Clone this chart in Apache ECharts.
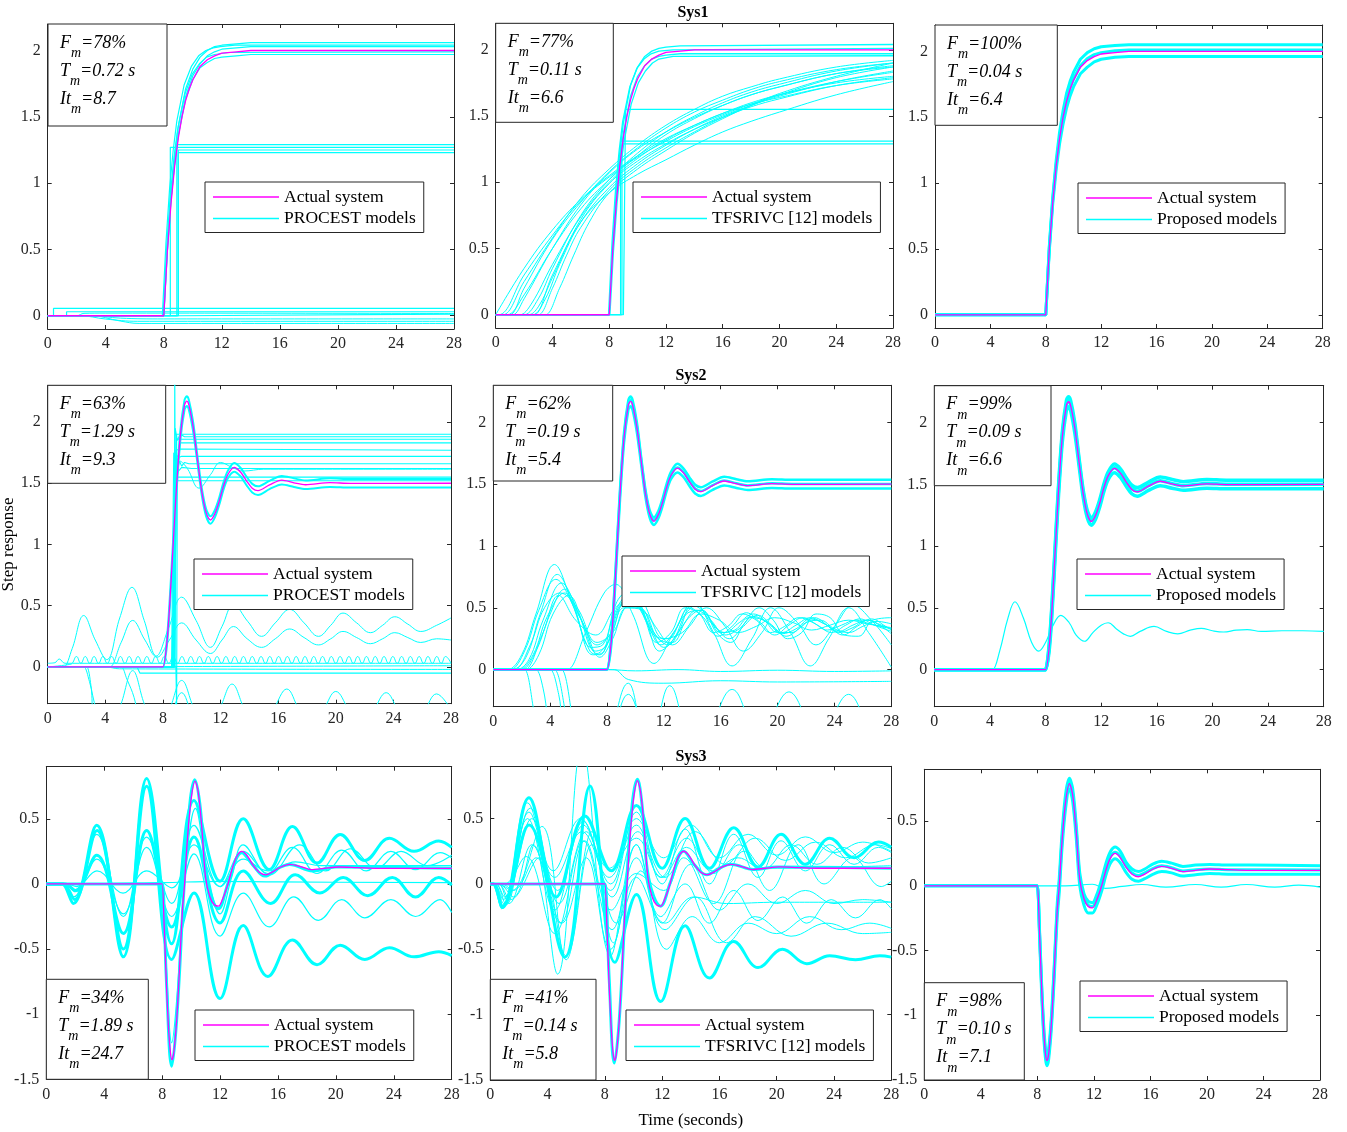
<!DOCTYPE html>
<html>
<head>
<meta charset="utf-8">
<title>Step responses</title>
<script src="https://cdn.jsdelivr.net/npm/echarts@6.0.0/dist/echarts.min.js"></script>
<style>
html, body { margin: 0; padding: 0; background: #fff; }
#chart { width: 1347px; height: 1132px; }
</style>
</head>
<body>
<div id="chart"></div>
<script>
// ---- data: [time (s), step response] ----

const yTicksStep = [0, 0.5, 1, 1.5, 2];
const yTicksSys3 = [-1.5, -1, -0.5, 0, 0.5];

// fit scores per panel: Fm, Tm, Itm
const fitScores = [
    ['78%', '0.72 s', '8.7'], ['77%', '0.11 s', '6.6'], ['100%', '0.04 s', '6.4'],
    ['63%', '1.29 s', '9.3'], ['62%', '0.19 s', '5.4'], ['99%', '0.09 s', '6.6'],
    ['34%', '1.89 s', '24.7'], ['41%', '0.14 s', '5.8'], ['98%', '0.10 s', '7.1']
];

// Sys1
const sys1Actual = [[0,0],[8,0],[8.25,0.49],[8.5,0.85],[8.75,1.13],[9,1.34],[9.25,1.5],[9.5,1.62],[9.75,1.71],[10,1.78],[10.5,1.88],[11,1.93],[11.5,1.96],[12,1.98],[13,1.99],[14,2.0],[28,2.0]];

const procest1Fit = [
    [[0,0],[8,0],[8.25,0.53],[8.5,0.92],[8.75,1.21],[9,1.43],[9.5,1.71],[10,1.86],[10.5,1.95],[11,2.0],[11.5,2.03],[12,2.04],[13,2.05],[14,2.06],[28,2.06]],
    [[0,0],[8,0],[8.25,0.49],[8.5,0.87],[8.75,1.15],[9,1.36],[9.5,1.65],[10,1.81],[10.5,1.9],[11,1.96],[11.5,1.99],[12,2.01],[13,2.02],[14,2.03],[28,2.03]],
    [[0,0],[8,0],[8.25,0.5],[8.5,0.88],[8.75,1.15],[9,1.36],[9.5,1.63],[10,1.78],[10.5,1.87],[11,1.91],[11.5,1.94],[12,1.95],[13,1.96],[14,1.97],[28,1.97]],
    [[0,0],[7.9,0],[8.15,0.55],[8.4,0.96],[8.65,1.25],[8.9,1.47],[9.4,1.74],[9.9,1.88],[10.4,1.96],[10.9,2.0],[11.4,2.02],[11.9,2.03],[12.9,2.04],[28,2.04]],
    [[0,0],[7.95,0],[8.2,0.52],[8.45,0.91],[8.7,1.19],[8.95,1.4],[9.45,1.67],[9.95,1.82],[10.45,1.9],[10.95,1.95],[11.5,1.97],[12.5,1.985],[28,1.99]]
];
const procest1Steps = [
    [[0,0],[8.45,0],[8.45,1.27],[28,1.27]],
    [[0,0],[8.9,0],[8.9,1.29],[28,1.29]],
    [[0,0],[9.0,0],[9.0,1.25],[28,1.25]],
    [[0,0],[9.0,0],[9.0,1.23],[28,1.23]],
    [[0,0],[0.4,0],[0.4,0.055],[28,0.055]],
    [[0,0],[1.3,0],[1.3,0.03],[28,0.03]],
    [[0,0],[9,0],[9,0.012],[28,0.012]]
];
const procest1Drift = [
    [[0,0],[1.9,0],[2.0,0],[2.5,0.018],[4,0.02],[28,0.017]],
    [[0,0],[2.1,0],[2.2,0],[4,-0.025],[6.2,-0.042],[28,-0.042]],
    [[0,0],[2.9,0],[3,0],[5,-0.04],[6.3,-0.058],[28,-0.058]],
    [[0,0],[2.9,0],[3,0],[5,-0.018],[8,-0.024],[28,-0.024]]
];

const tfsr1Fit = [
    [[0,0],[8,0],[8.25,0.54],[8.5,0.94],[8.75,1.23],[9,1.45],[9.5,1.73],[10,1.87],[10.5,1.95],[11,1.99],[11.5,2.01],[12,2.02],[13,2.03],[28,2.04]],
    [[0,0],[8,0],[8.25,0.5],[8.5,0.88],[8.75,1.16],[9,1.37],[9.5,1.65],[10,1.8],[10.5,1.88],[11,1.93],[11.5,1.95],[12,1.96],[13,1.97],[28,1.97]],
    [[0,0],[7.95,0],[8.2,0.55],[8.45,0.95],[8.7,1.24],[8.95,1.46],[9.45,1.72],[9.95,1.86],[10.45,1.93],[10.95,1.97],[11.5,1.99],[12.5,2.0],[28,2.01]],
    [[0,0],[8.05,0],[8.3,0.48],[8.55,0.84],[8.8,1.11],[9.05,1.31],[9.55,1.59],[10.05,1.75],[10.55,1.84],[11.05,1.9],[11.5,1.93],[12.5,1.95],[28,1.955]]
];
const tfsr1Steps = [
    [[0,0],[8.8,0],[8.8,1.31],[28,1.31]],
    [[0,0],[8.9,0],[8.9,1.29],[28,1.29]],
    [[0,0],[9.0,0],[9.15,1.55],[28,1.55]]
];
const tfsr1Slow = [
    [[0,0],[2,0.35],[4,0.64],[6,0.87],[8,1.05],[10,1.2],[12,1.33],[14,1.43],[16,1.52],[18,1.59],[20,1.64],[24,1.73],[28,1.78]],
    [[0,0],[0.9,0],[1,0],[2,0.2],[4,0.57],[6,0.85],[8,1.08],[10,1.26],[12,1.41],[14,1.53],[16,1.62],[18,1.7],[20,1.76],[24,1.85],[28,1.9]],
    [[0,0],[0.2,0],[2,0.3],[4,0.6],[6,0.86],[8,1.04],[10,1.19],[12,1.31],[14,1.42],[16,1.51],[18,1.59],[20,1.66],[24,1.76],[28,1.83]],
    [[0,0],[0.7,0],[0.8,0],[2,0.15],[4,0.5],[6,0.8],[8,1.02],[10,1.2],[12,1.36],[14,1.48],[16,1.58],[18,1.66],[20,1.72],[24,1.82],[28,1.88]],
    [[0,0],[1.6,0],[1.7,0],[2.5,0.08],[4,0.38],[6,0.74],[8,1.0],[10,1.18],[12,1.32],[14,1.43],[16,1.52],[18,1.6],[20,1.66],[24,1.75],[28,1.8]],
    [[0,0],[1.9,0],[2,0],[3,0.12],[4,0.35],[6,0.75],[8,1.02],[10,1.22],[12,1.38],[14,1.5],[16,1.6],[18,1.68],[20,1.74],[24,1.84],[28,1.9]],
    [[0,0],[2.2,0],[2.3,0],[3,0.06],[4,0.28],[6,0.72],[8,0.99],[10,1.16],[12,1.29],[14,1.4],[16,1.49],[18,1.57],[20,1.63],[24,1.73],[28,1.79]],
    [[0,0],[2.5,0],[2.6,0],[3.5,0.12],[4.5,0.38],[6,0.7],[8,0.96],[10,1.14],[12,1.28],[14,1.4],[16,1.5],[18,1.58],[20,1.65],[24,1.76],[28,1.84]],
    [[0,0],[2.9,0],[3,0],[4,0.2],[5,0.45],[6,0.66],[8,0.94],[10,1.12],[12,1.26],[14,1.38],[16,1.49],[18,1.58],[20,1.66],[24,1.79],[28,1.87]],
    [[0,0],[3.4,0],[3.5,0],[4.5,0.2],[5.5,0.45],[6.6,0.7],[8,0.92],[10,1.1],[12,1.24],[14,1.37],[16,1.48],[18,1.58],[20,1.67],[24,1.8],[28,1.9]],
    [[0,0],[1.1,0],[1.2,0],[2,0.12],[4,0.5],[6,0.83],[8,1.07],[10,1.25],[12,1.38],[14,1.49],[16,1.58],[18,1.66],[20,1.72],[24,1.82],[28,1.87]],
    [[0,0],[0.4,0],[0.5,0],[2,0.25],[4,0.58],[6,0.88],[8,1.1],[10,1.28],[12,1.43],[14,1.55],[16,1.65],[18,1.72],[20,1.78],[24,1.87],[28,1.92]],
    [[0,0],[2.6,0],[2.7,0],[4,0.3],[6,0.7],[8,0.92],[10,1.06],[12,1.17],[14,1.28],[16,1.38],[18,1.46],[20,1.53],[24,1.66],[28,1.76]]
];

const sys1PropHi = [[0,0],[8,0],[8.25,0.51],[8.5,0.89],[8.75,1.17],[9,1.39],[9.25,1.55],[9.5,1.68],[9.75,1.77],[10,1.84],[10.5,1.94],[11,1.99],[11.5,2.02],[12,2.035],[13,2.045],[14,2.05],[28,2.05]];
const sys1PropMid = [[0,0],[8,0],[8.25,0.5],[8.5,0.87],[8.75,1.14],[9,1.35],[9.25,1.51],[9.5,1.63],[9.75,1.72],[10,1.79],[10.5,1.89],[11,1.945],[11.5,1.975],[12,1.99],[13,2.005],[14,2.01],[28,2.01]];
const sys1PropLo = [[0,0],[8,0],[8.25,0.48],[8.5,0.84],[8.75,1.1],[9,1.3],[9.25,1.45],[9.5,1.57],[9.75,1.66],[10,1.73],[10.5,1.83],[11,1.88],[11.5,1.92],[12,1.94],[13,1.955],[14,1.96],[28,1.96]];

// Sys2
const sys2Actual = [[0,0],[7.9,0],[8,0],[8.3,0.23],[8.6,0.77],[8.9,1.39],[9.2,1.88],[9.5,2.14],[9.65,2.17],[9.8,2.14],[10.1,1.96],[10.4,1.69],[10.7,1.43],[11.0,1.26],[11.3,1.2],[11.6,1.25],[11.9,1.35],[12.2,1.475],[12.5,1.57],[12.95,1.63],[13.4,1.59],[13.8,1.52],[14.2,1.46],[14.6,1.44],[15.4,1.487],[16.25,1.526],[17.1,1.504],[17.9,1.488],[19.6,1.505],[21,1.499],[28,1.5]];
const sys2Hi = [[0,0],[7.9,0],[8,0],[8.3,0.26],[8.6,0.81],[8.9,1.43],[9.2,1.92],[9.5,2.18],[9.65,2.21],[9.8,2.18],[10.1,2.0],[10.4,1.72],[10.7,1.46],[11.0,1.29],[11.3,1.23],[11.6,1.28],[11.9,1.38],[12.2,1.505],[12.5,1.6],[12.95,1.665],[13.4,1.625],[13.8,1.555],[14.2,1.495],[14.6,1.475],[15.4,1.52],[16.25,1.56],[17.1,1.54],[17.9,1.523],[19.6,1.54],[21,1.535],[28,1.535]];
const sys2Mid = [[0,0],[7.9,0],[8,0],[8.3,0.24],[8.6,0.78],[8.9,1.4],[9.2,1.89],[9.5,2.15],[9.65,2.18],[9.8,2.15],[10.1,1.97],[10.4,1.7],[10.7,1.44],[11.0,1.27],[11.3,1.21],[11.6,1.26],[11.9,1.36],[12.2,1.48],[12.5,1.575],[12.95,1.635],[13.4,1.595],[13.8,1.525],[14.2,1.465],[14.6,1.445],[15.4,1.49],[16.25,1.53],[17.1,1.507],[17.9,1.49],[19.6,1.508],[21,1.502],[28,1.502]];
const sys2Lo = [[0,0],[7.9,0],[8,0],[8.3,0.2],[8.6,0.73],[8.9,1.35],[9.2,1.84],[9.5,2.1],[9.65,2.13],[9.8,2.1],[10.1,1.92],[10.4,1.66],[10.7,1.4],[11.0,1.23],[11.3,1.17],[11.6,1.22],[11.9,1.32],[12.2,1.445],[12.5,1.54],[12.95,1.595],[13.4,1.555],[13.8,1.485],[14.2,1.425],[14.6,1.405],[15.4,1.452],[16.25,1.49],[17.1,1.47],[17.9,1.453],[19.6,1.47],[21,1.465],[28,1.465]];

const procest2Steps = [
    [[0,0],[8.6,0],[8.75,1.75],[8.85,1.68],[8.95,1.73],[9.1,1.71],[9.3,1.72],[28,1.72]],
    [[0,0],[8.7,0],[8.85,1.95],[9.0,1.85],[9.2,1.9],[9.5,1.88],[28,1.88]],
    [[0,0],[8.8,0],[8.82,2.5],[8.87,0.9],[8.95,1.9],[9.2,1.9],[28,1.9]],
    [[0,0],[8.9,0],[8.95,-0.35],[9.0,1.55],[9.2,1.83],[28,1.83]],
    [[0,0],[8.65,0],[8.8,1.6],[8.9,1.72],[9.0,1.6],[9.15,1.68],[9.3,1.64],[9.5,1.67],[9.8,1.66],[28,1.66]],
    [[0,0],[8.7,0],[8.8,1.55],[28,1.55]],
    [[0,0],[8.75,0],[8.9,1.77],[9.2,1.78],[28,1.77]],
    [[0,0],[8.8,0],[8.95,1.86],[28,1.86]],
    [[0,0],[8.75,0],[8.95,1.58],[9.3,1.63],[10,1.62],[28,1.62]],
    [[0,0],[8.85,0],[8.9,1.52],[28,1.52]],
    [[0,0],[6.2,0],[6.4,-0.05],[28,-0.05]]
];
const procest2Waves = [
    [[0,0],[8.5,0],[8.6,0],[8.9,1.5],[9.2,1.68],[9.7,1.62],[10.5,1.46],[11.3,1.57],[12.0,1.67],[12.8,1.63],[13.6,1.6],[15,1.615],[28,1.615]],
    [[0,0],[1.0,0],[1.1,0],[1.7,0.15],[2.5,0.42],[3.3,0.22],[4.1,0.06],[5.0,0.4],[5.85,0.65],[6.7,0.38],[7.55,0.09],[8.4,0.32],[9.3,0.57],[10.3,0.38],[11.3,0.16],[12.1,0.33],[12.9,0.51],[13.9,0.37],[14.85,0.25],[15.8,0.36],[16.8,0.47],[17.8,0.36],[18.8,0.25],[19.65,0.34],[20.5,0.44],[21.45,0.36],[22.4,0.28],[23.25,0.34],[24.1,0.41],[25.0,0.35],[25.9,0.29],[27.0,0.34],[28,0.4]],
    [[0,0],[4.2,0],[4.3,0],[5.1,0.2],[5.9,0.38],[6.75,0.22],[7.6,0.08],[8.45,0.22],[9.3,0.36],[10.3,0.22],[11.3,0.11],[12.1,0.22],[12.9,0.33],[13.85,0.23],[14.85,0.16],[15.8,0.23],[16.8,0.31],[17.8,0.24],[18.8,0.18],[19.65,0.23],[20.5,0.29],[21.45,0.24],[22.4,0.19],[23.25,0.23],[24.1,0.28],[25.0,0.24],[25.9,0.2],[27.0,0.23],[28,0.22]],
    [[0,0],[2.4,0],[2.5,0],[2.9,-0.12],[3.4,-0.35],[4.3,-0.55],[5.1,-0.3],[5.9,-0.03],[6.7,-0.3],[7.6,-0.55],[8.45,-0.35],[9.3,-0.11],[10.2,-0.35],[11.05,-0.5],[11.9,-0.35],[12.8,-0.14],[13.7,-0.35],[14.7,-0.5],[15.65,-0.35],[16.6,-0.18],[17.45,-0.35],[18.3,-0.5],[19.15,-0.35],[20.0,-0.2],[20.9,-0.35],[21.75,-0.5],[22.6,-0.36],[23.5,-0.21],[24.35,-0.36],[25.25,-0.5],[26.1,-0.37],[27.0,-0.22],[28,-0.35]],
    [[0,0],[5.0,0],[5.1,0],[5.5,-0.1],[6.0,-0.25],[6.5,-0.5],[7.8,-0.7],[8.6,-0.4],[9.3,-0.21],[10.0,-0.4],[10.8,-0.7],[28,-0.7]],
    [[0,0],[2.6,0],[2.7,0],[3.0,-0.15],[3.3,-0.5],[28,-0.9]],
    [[0,0.03],[0.5,0.035],[0.8,0.065],[1.2,0.03],[28,0.03]],
    [[0,0],[3.9,0],[4,0],[5,-0.015],[28,-0.02]],
    [[0,0],[28,0.01]]
];
// fast ripple riding near zero
const procest2Ripple = [[0,0],[1.5,0.02],[1.7,0.03],[2.0,0.085],[2.3,0.03],[2.61,0.085],[2.92,0.03],[3.22,0.085],[3.53,0.03],[3.83,0.085],[4.14,0.03],[4.44,0.085],[4.75,0.03],[5.05,0.085],[5.36,0.03],[5.66,0.085],[5.97,0.03],[6.27,0.085],[6.58,0.03],[6.88,0.085],[7.19,0.03],[7.49,0.085],[7.8,0.03],[8.1,0.085],[8.41,0.03],[8.71,0.085],[9.02,0.03],[9.32,0.085],[9.63,0.03],[9.93,0.085],[10.24,0.03],[10.54,0.085],[10.85,0.03],[11.15,0.085],[11.46,0.03],[11.76,0.085],[12.07,0.03],[12.37,0.085],[12.68,0.03],[12.98,0.085],[13.29,0.03],[13.59,0.085],[13.9,0.03],[14.2,0.085],[14.51,0.03],[14.81,0.085],[15.12,0.03],[15.42,0.085],[15.73,0.03],[16.03,0.085],[16.34,0.03],[16.64,0.085],[16.95,0.03],[17.25,0.085],[17.56,0.03],[17.86,0.085],[18.17,0.03],[18.47,0.085],[18.78,0.03],[19.08,0.085],[19.39,0.03],[19.69,0.085],[20.0,0.03],[20.3,0.085],[20.61,0.03],[20.91,0.085],[21.22,0.03],[21.52,0.085],[21.83,0.03],[22.13,0.085],[22.44,0.03],[22.74,0.085],[23.05,0.03],[23.35,0.085],[23.66,0.03],[23.96,0.085],[24.27,0.03],[24.57,0.085],[24.88,0.03],[25.18,0.085],[25.49,0.03],[25.79,0.085],[26.1,0.03],[26.4,0.085],[26.71,0.03],[27.01,0.085],[27.32,0.03],[27.62,0.085],[28,0.03]];

const tfsr2Waves = [
    [[0,0],[0.9,0],[1.0,0],[2,0.12],[3,0.45],[4.3,0.85],[5.5,0.55],[6.8,0.15],[7.5,0.12],[8.5,0.45],[9.5,0.6],[10.5,0.45],[11.5,0.22],[12.5,0.3],[13.5,0.5],[14.5,0.45],[15.5,0.3],[16.5,0.35],[17.5,0.45],[18.5,0.4],[19.5,0.3],[20.5,0.35],[21.5,0.42],[22.5,0.38],[23.5,0.32],[24.5,0.36],[25.5,0.4],[26.5,0.37],[28,0.33]],
    [[0,0],[1.2,0],[1.3,0],[2.3,0.1],[3.3,0.45],[4.5,0.77],[5.7,0.5],[7.0,0.12],[7.8,0.15],[8.8,0.5],[9.8,0.58],[10.8,0.38],[11.8,0.2],[12.8,0.32],[13.8,0.5],[14.8,0.42],[15.8,0.27],[16.8,0.35],[17.8,0.46],[18.8,0.38],[19.8,0.28],[20.8,0.36],[21.8,0.42],[22.8,0.36],[23.8,0.3],[24.8,0.36],[25.8,0.41],[26.8,0.36],[28,0.31]],
    [[0,0],[1.5,0],[1.6,0],[2.5,0.08],[3.5,0.4],[4.8,0.7],[6.0,0.45],[7.2,0.15],[8.0,0.2],[9.0,0.52],[10.0,0.55],[11.0,0.35],[12.0,0.18],[13.0,0.3],[14.0,0.52],[15.0,0.45],[16.0,0.3],[17.0,0.32],[18.0,0.42],[19.0,0.4],[20.0,0.3],[21.0,0.3],[22.0,0.38],[23.0,0.4],[24.0,0.33],[25.0,0.3],[26.0,0.35],[27.0,0.39],[28,0.37]],
    [[0,0],[1.9,0],[2.0,0],[3.0,0.15],[4.0,0.45],[5.0,0.65],[6.2,0.4],[7.3,0.13],[8.2,0.25],[9.2,0.5],[10.3,0.5],[11.3,0.3],[12.3,0.2],[13.3,0.35],[14.3,0.48],[15.3,0.4],[16.3,0.28],[17.3,0.33],[18.3,0.43],[19.3,0.38],[20.3,0.29],[21.3,0.33],[22.3,0.41],[23.3,0.37],[24.3,0.3],[25.3,0.34],[26.3,0.4],[27.3,0.36],[28,0.33]],
    [[0,0],[2.2,0],[2.3,0],[3.2,0.12],[4.2,0.45],[5.3,0.6],[6.4,0.35],[7.5,0.1],[8.4,0.25],[9.4,0.5],[10.5,0.48],[11.6,0.25],[12.6,0.22],[13.6,0.4],[14.6,0.48],[15.6,0.35],[16.6,0.25],[17.6,0.35],[18.6,0.44],[19.6,0.36],[20.6,0.27],[21.6,0.34],[22.6,0.42],[23.6,0.35],[24.6,0.28],[25.6,0.35],[26.6,0.41],[27.6,0.35],[28,0.32]],
    [[0,0],[1.1,0],[1.2,0],[2.2,0.15],[3.2,0.48],[4.4,0.73],[5.6,0.52],[6.9,0.18],[7.7,0.2],[8.7,0.55],[9.7,0.65],[10.7,0.42],[11.7,0.15],[12.7,0.25],[13.7,0.46],[14.7,0.48],[15.7,0.3],[16.7,0.22],[17.7,0.38],[18.7,0.5],[19.7,0.4],[20.7,0.25],[21.7,0.3],[22.7,0.45],[23.7,0.42],[24.7,0.28],[25.7,0.27],[26.7,0.4],[28,0.42]],
    [[0,0],[1.7,0],[1.8,0],[2.8,0.12],[3.8,0.43],[5.0,0.62],[6.1,0.42],[7.3,0.2],[8.3,0.3],[9.3,0.55],[10.3,0.5],[11.3,0.28],[12.3,0.25],[13.3,0.42],[14.3,0.52],[15.3,0.38],[16.3,0.3],[17.3,0.38],[18.3,0.45],[19.3,0.38],[20.3,0.3],[21.3,0.36],[22.3,0.42],[23.3,0.37],[24.3,0.31],[25.3,0.36],[26.3,0.4],[27.3,0.35],[28,0.29]],
    [[0,0],[5.1,0],[5.2,0],[6.5,0.3],[7.8,0.62],[8.6,0.69],[9.8,0.45],[11.3,0.05],[12.7,0.3],[14.1,0.55],[15.5,0.3],[16.8,0.03],[18.2,0.25],[19.5,0.5],[20.9,0.3],[22.3,0.03],[23.6,0.25],[25.0,0.5],[26.4,0.3],[28,0.02]],
    [[0,0],[2.1,0],[2.2,0],[3.5,0.3],[4.6,0.6],[5.8,0.4],[7.2,0.28],[8.6,0.5],[10.0,0.6],[11.4,0.35],[12.6,0.2],[13.8,0.35],[15.0,0.5],[16.3,0.35],[17.6,0.15],[18.9,0.3],[20.1,0.5],[21.4,0.38],[22.7,0.2],[24,0.35],[25.3,0.52],[26.6,0.4],[28,0.2]],
    [[0,0],[1.4,0],[1.5,0],[2.6,0.2],[3.6,0.5],[4.7,0.62],[5.9,0.5],[7.3,0.22],[8.4,0.3],[9.6,0.52],[10.8,0.45],[12,0.25],[13.3,0.3],[14.6,0.45],[15.9,0.4],[17.2,0.3],[18.5,0.35],[19.8,0.42],[21.1,0.38],[22.4,0.32],[23.7,0.36],[25,0.4],[26.3,0.37],[28,0.34]],
    [[0,0],[7.9,0],[8,0],[10,-0.01],[13,0.0],[16,-0.015],[20,-0.005],[24,-0.015],[28,-0.01]],
    [[0,0],[8.4,0],[8.5,0],[9.5,-0.08],[12,-0.11],[16,-0.09],[20,-0.1],[28,-0.095]],
    [[0,0],[2.9,0],[3.0,0],[3.5,-0.15],[4.2,-0.6],[6,-1.0],[8,-0.6],[9.5,-0.11],[11,-0.6],[12.5,-0.5],[14.5,-0.55],[16.8,-0.16],[18.7,-0.55],[20.8,-0.18],[22.9,-0.55],[25.0,-0.2],[27,-0.55],[28,-0.45]],
    [[0,0],[3.9,0],[4.0,0],[4.6,-0.2],[5.2,-0.6],[7.5,-0.7],[9.5,-0.2],[11,-0.6],[12.4,-0.13],[14,-0.6],[16,-0.7],[28,-0.7]],
    [[0,0],[2.1,0],[2.2,0],[2.8,-0.3],[3.5,-0.9],[28,-0.9]],
    [[0,0],[4.2,0],[4.3,0],[5.0,-0.3],[5.5,-0.8],[28,-0.8]],
    [[0,0],[4.7,0],[4.8,0],[5.5,-0.35],[6.0,-0.9],[28,-0.9]]
];

const prop2Stray = [[0,0],[4.1,0],[4.2,0],[4.7,0.15],[5.3,0.42],[5.8,0.55],[6.4,0.42],[7.0,0.22],[7.5,0.15],[8.0,0.22],[8.5,0.35],[9.1,0.44],[9.7,0.38],[10.2,0.28],[10.8,0.23],[11.4,0.3],[12.0,0.36],[12.5,0.38],[13.1,0.33],[13.6,0.29],[14.1,0.27],[14.8,0.31],[15.8,0.35],[16.7,0.31],[17.5,0.29],[18.4,0.32],[19.2,0.335],[20.0,0.315],[20.8,0.305],[21.7,0.32],[22.5,0.325],[23.5,0.31],[25,0.315],[26.5,0.315],[28,0.31]];

// Sys3
const sys3Actual = [[0,0],[7.9,0],[8,0],[8.15,-0.35],[8.3,-0.78],[8.45,-1.12],[8.58,-1.3],[8.68,-1.35],[8.8,-1.3],[9.0,-1.05],[9.2,-0.65],[9.4,-0.2],[9.55,0],[9.75,0.35],[10.0,0.65],[10.27,0.79],[10.5,0.7],[10.75,0.42],[11.0,0.05],[11.3,-0.1],[11.6,-0.16],[11.9,-0.17],[12.2,-0.11],[12.55,0.0],[12.9,0.14],[13.2,0.22],[13.5,0.25],[13.85,0.22],[14.3,0.14],[14.7,0.09],[15.15,0.07],[15.6,0.09],[16.2,0.13],[16.8,0.15],[17.5,0.135],[18.3,0.11],[19.2,0.12],[20.2,0.13],[21.5,0.125],[23,0.12],[28,0.12]];
const sys3PropHi = [[0,0],[7.9,0],[8,0],[8.15,-0.33],[8.3,-0.75],[8.45,-1.08],[8.58,-1.26],[8.68,-1.31],[8.8,-1.26],[9.0,-1.0],[9.2,-0.6],[9.4,-0.15],[9.55,0.06],[9.75,0.41],[10.0,0.71],[10.27,0.83],[10.5,0.75],[10.75,0.47],[11.0,0.1],[11.3,-0.06],[11.6,-0.12],[11.9,-0.13],[12.2,-0.07],[12.55,0.05],[12.9,0.19],[13.2,0.27],[13.5,0.3],[13.85,0.27],[14.3,0.18],[14.7,0.13],[15.15,0.11],[15.6,0.13],[16.2,0.17],[16.8,0.19],[17.5,0.175],[18.3,0.15],[19.2,0.16],[20.2,0.165],[21.5,0.16],[23,0.16],[28,0.155]];
const sys3PropMid = [[0,0],[7.9,0],[8,0],[8.15,-0.35],[8.3,-0.78],[8.45,-1.12],[8.58,-1.3],[8.68,-1.35],[8.8,-1.3],[9.0,-1.04],[9.2,-0.64],[9.4,-0.19],[9.55,0.01],[9.75,0.36],[10.0,0.66],[10.27,0.8],[10.5,0.71],[10.75,0.43],[11.0,0.06],[11.3,-0.09],[11.6,-0.15],[11.9,-0.16],[12.2,-0.1],[12.55,0.01],[12.9,0.15],[13.2,0.23],[13.5,0.26],[13.85,0.23],[14.3,0.15],[14.7,0.1],[15.15,0.08],[15.6,0.1],[16.2,0.135],[16.8,0.155],[17.5,0.14],[18.3,0.115],[19.2,0.125],[20.2,0.13],[21.5,0.125],[23,0.125],[28,0.122]];
const sys3PropLo = [[0,0],[7.9,0],[8,0],[8.15,-0.37],[8.3,-0.82],[8.45,-1.16],[8.58,-1.34],[8.68,-1.39],[8.8,-1.34],[9.0,-1.09],[9.2,-0.7],[9.4,-0.25],[9.55,-0.05],[9.75,0.3],[10.0,0.6],[10.27,0.75],[10.5,0.65],[10.75,0.37],[11.0,0.0],[11.3,-0.15],[11.6,-0.21],[11.9,-0.21],[12.2,-0.15],[12.55,-0.04],[12.9,0.1],[13.2,0.18],[13.5,0.21],[13.85,0.18],[14.3,0.1],[14.7,0.05],[15.15,0.035],[15.6,0.055],[16.2,0.09],[16.8,0.11],[17.5,0.1],[18.3,0.075],[19.2,0.085],[20.2,0.095],[21.5,0.09],[23,0.09],[28,0.09]];
const prop3Stray = [[0,0],[8,0],[10,0.0],[11.9,0.012],[12.8,-0.02],[14,-0.005],[15.4,0.01],[17.1,-0.01],[19.2,0.01],[21,-0.01],[22.8,0.01],[24.8,-0.01],[26.5,0.005],[28,-0.01]];

const procest3Bold = [
    [[0,0],[1.0,0],[1.1,0],[1.87,-0.15],[3.48,0.45],[5.32,-0.56],[6.93,0.81],[8.66,-0.46],[10.2,0.64],[12.0,0.02],[13.6,0.5],[15.4,0.11],[17.0,0.44],[18.7,0.16],[20.3,0.38],[22.0,0.18],[23.7,0.35],[25.4,0.25],[27.1,0.33],[28,0.28]],
    [[0,0],[1.1,0],[1.2,0],[1.95,-0.12],[3.5,0.41],[5.32,-0.5],[6.93,0.75],[8.66,-0.58],[10.2,-0.07],[12.0,-0.88],[13.6,-0.32],[15.3,-0.71],[17.0,-0.43],[18.7,-0.62],[20.3,-0.47],[22.0,-0.58],[23.7,-0.49],[25.4,-0.56],[27.1,-0.52],[28,-0.55]],
    [[0,0],[1.2,0],[1.3,0],[2.0,-0.05],[3.48,0.22],[5.32,-0.38],[6.93,0.41],[8.66,-0.33],[10.2,0.36],[12.0,-0.3],[13.6,0.1],[15.5,-0.15],[17.2,0.07],[18.9,-0.07],[20.5,0.05],[22.2,-0.09],[23.9,0.05],[25.5,-0.1],[27.1,0.05],[28,-0.01]],
    [[0,0],[7.9,0],[8,0],[8.3,-0.75],[8.66,-1.4],[9.0,-1.05],[9.5,-0.05],[9.9,0.6],[10.25,0.8],[10.6,0.62],[11.1,0.05],[11.9,-0.19],[12.6,0.02],[13.5,0.24],[14.3,0.14],[15.1,0.06],[16.0,0.12],[16.8,0.15],[18.4,0.1],[20,0.13],[28,0.12]]
];
const procest3Thin = [
    [[0,0],[1.2,0],[1.3,0],[2.0,-0.06],[3.48,0.19],[5.32,-0.23],[6.93,0.28],[8.66,-0.25],[10.2,0.23],[12.0,-0.4],[13.6,-0.07],[15.4,-0.33],[17.1,-0.1],[18.8,-0.28],[20.4,-0.12],[22.0,-0.26],[23.8,-0.12],[25.5,-0.25],[27.2,-0.12],[28,-0.22]],
    [[0,0],[7.9,0],[8,0],[8.3,-0.65],[8.66,-1.22],[9.0,-0.9],[9.6,0.1],[10.3,0.58],[11.1,0.1],[12.0,-0.23],[12.8,0.05],[13.6,0.3],[15.3,0.08],[17.0,0.28],[18.7,0.08],[20.4,0.26],[22.1,0.1],[23.8,0.25],[25.5,0.11],[27.2,0.24],[28,0.2]],
    [[0,0],[1.3,0],[1.4,0],[2.1,-0.02],[3.5,0.1],[5.3,-0.07],[6.93,0.1],[8.66,-0.03],[10.2,0.3],[12.0,-0.02],[13.6,0.19],[15.3,0.1],[17.2,0.17],[19,0.14],[28,0.14]],
    [[0,0],[2.5,0.0],[8,0.01],[12,0.02],[16,0.015],[28,0.01]],
    [[0,0],[1.1,0],[1.2,0],[1.9,-0.1],[3.48,0.38],[5.32,-0.25],[6.93,0.36],[8.66,-0.15],[10.2,0.45],[12.0,-0.02],[13.6,0.25],[15.4,0.07],[17.5,0.3],[19.3,0.1],[21,0.27],[22.8,0.12],[24.5,0.25],[26.3,0.14],[28,0.22]]
];

const tfsr3Bold = [
    [[0,0],[0.1,0],[0.2,0],[0.85,-0.17],[2.7,0.45],[5.2,-0.56],[6.96,0.75],[8.7,-0.6],[10.2,-0.08],[11.9,-0.9],[13.6,-0.32],[15.3,-0.72],[17.0,-0.44],[18.7,-0.64],[20.4,-0.5],[22.1,-0.61],[23.7,-0.55],[25.5,-0.58],[27.2,-0.55],[28,-0.56]],
    [[0,0],[0.1,0],[0.2,0],[0.85,-0.18],[2.7,0.66],[4.6,-0.1],[6.6,0.52],[8.45,0.1],[10.2,0.6],[12.0,0.12],[13.6,0.5],[15.3,0.12],[17.0,0.43],[18.7,0.13],[20.3,0.38],[22.0,0.15],[23.7,0.35],[25.4,0.2],[27.1,0.32],[28,0.28]],
    [[0,0],[7.9,0],[8,0],[8.3,-0.72],[8.66,-1.37],[9.0,-1.05],[9.5,-0.03],[9.9,0.6],[10.27,0.8],[10.6,0.6],[11.05,0.05],[11.9,-0.17],[12.6,0.02],[13.5,0.25],[14.3,0.14],[15.1,0.07],[16.0,0.12],[16.8,0.15],[18.4,0.11],[20,0.13],[28,0.12]]
];
const tfsr3Thin = [
    [[0,0],[0.2,0],[0.3,0],[0.9,-0.12],[2.8,0.58],[4.7,-0.05],[6.5,0.45],[8.4,0.0],[10.2,0.5],[12.1,0.2],[14,0.45],[16,0.2],[18,0.38],[20,0.22],[22,0.36],[24,0.24],[26,0.32],[28,0.25]],
    [[0,0],[0.3,0],[0.4,0],[1.0,-0.1],[2.9,0.5],[4.8,-0.15],[6.7,0.4],[8.5,-0.1],[10.3,0.4],[12.2,0.05],[14.3,0.4],[16.4,0.15],[18.5,0.35],[20.6,0.18],[22.7,0.32],[24.8,0.2],[26.9,0.3],[28,0.27]],
    [[0,0],[0.5,0],[0.6,0],[1.6,-0.1],[3.0,0.3],[4.7,-0.69],[6.4,1.05],[8.4,-0.55],[10.2,0.3],[12.0,-0.3],[14,0.15],[16,-0.2],[18,0.0],[20,-0.15],[22,-0.05],[24,-0.15],[26,-0.12],[28,-0.14]],
    [[0,0],[0.4,0],[0.5,0],[1.5,-0.05],[3.6,0.44],[5.3,-0.58],[7.1,0.4],[8.6,-0.45],[10.2,0.3],[11.9,-0.25],[13.6,0.0],[15.3,-0.3],[17.0,-0.05],[18.7,-0.28],[20.4,-0.1],[22.1,-0.3],[23.8,-0.12],[25.5,-0.26],[27.2,-0.12],[28,-0.19]],
    [[0,0],[0.9,0],[1.0,0],[2.5,0.21],[4.5,-0.38],[6.5,0.33],[8.5,-0.35],[10.2,0.2],[12.2,-0.35],[14.3,-0.1],[16.5,-0.45],[18.5,-0.25],[21,-0.4],[23.5,-0.3],[26,-0.38],[28,-0.37]],
    [[0,0],[0.5,0],[0.6,0],[1.3,-0.15],[2.9,0.3],[4.9,-0.3],[6.6,0.33],[8.45,-0.2],[10.2,0.08],[12.1,-0.05],[13.5,0.2],[15.6,-0.15],[17.7,0.25],[19.5,-0.05],[21.5,0.3],[23.3,0.0],[25.3,0.2],[27.3,-0.02],[28,0.02]],
    [[0,0],[0.3,0],[0.4,0],[1.1,-0.16],[2.7,0.55],[4.5,0.05],[6.4,0.4],[8.3,0.05],[10.2,0.45],[11.9,0.05],[13.7,0.35],[15.6,0.08],[17.4,0.3],[19.2,0.12],[21,0.3],[22.8,0.15],[24.6,0.28],[26.4,0.16],[28,0.2]],
    [[0,0],[0.7,0],[0.8,0],[1.6,-0.05],[3.2,0.2],[5,-0.3],[6.7,0.2],[8.4,-0.5],[10.2,0.05],[12.2,-0.3],[14.2,-0.1],[16.5,-0.15],[20,-0.14],[28,-0.14]],
    [[0,0],[0.2,0],[0.3,0],[0.9,-0.15],[2.6,0.62],[4.4,0.1],[6.3,0.5],[8.3,0.12],[10.2,0.35],[12,0.05],[13.7,0.28],[15.5,0.1],[17.3,0.2],[19,0.12],[28,0.14]],
    [[0,0],[0.1,0],[0.2,0],[0.8,-0.19],[2.6,0.5],[4.5,-0.2],[6.5,0.48],[8.4,-0.05],[10.2,0.55],[12.0,0.0],[13.6,0.42],[15.3,0.0],[17.0,0.38],[18.7,0.05],[20.3,0.33],[22.0,0.1],[23.7,0.3],[25.4,0.15],[27.1,0.28],[28,0.24]],
    [[0,0],[0.5,0],[0.6,0],[1.4,-0.12],[3.4,0.2],[5.3,-0.55],[7.1,0.3],[8.8,-0.3],[10.5,0.1],[12.3,-0.5],[14.1,-0.25],[16,-0.45],[18,-0.3],[20,-0.38],[22.3,-0.25],[24.5,-0.35],[26.5,-0.3],[28,-0.34]]
];

// ---- chart ----
const FONT = '"Liberation Serif", "Times New Roman", serif';
const CYAN = '#00ffff';
const MAGENTA = '#ff00ff';
const AXIS = '#262626';

const chart = echarts.init(document.getElementById('chart'), null, { renderer: 'canvas' });

const group = (list, width, smooth) => list.map(data => ({ data, width, smooth }));

// rect = plot area [left, top, width, height]; legend/note are box corners in px
const panels = [
    { rect: [47.7, 24, 406.3, 305], y: [-0.1, 2.2], ticks: yTicksStep, actual: sys1Actual, smooth: 0, model: 'PROCEST models',
      curves: [...group(procest1Fit, 1.2, 0), ...group(procest1Steps, 1.2, 0), ...group(procest1Drift, 1, 0.4)],
      legend: [205, 182], note: [48, 24, 119, 102] },
    { rect: [495.7, 23.3, 397.3, 304.7], y: [-0.1, 2.2], ticks: yTicksStep, actual: sys1Actual, smooth: 0, model: 'TFSRIVC [12] models',
      curves: [...group(tfsr1Slow, 1, 0.4), ...group(tfsr1Steps, 1.2, 0), ...group(tfsr1Fit, 1.3, 0)],
      legend: [633, 182], note: [495.7, 23.3, 117.6, 99] },
    { rect: [935, 25, 387.7, 303], y: [-0.1, 2.2], ticks: yTicksStep, actual: sys1Actual, smooth: 0, model: 'Proposed models',
      curves: group([sys1PropHi, sys1PropLo, sys1PropMid], 3, 0),
      legend: [1078, 183], note: [935, 25, 122.3, 100.3] },
    { rect: [47.7, 385.3, 403.3, 318.4], y: [-0.3, 2.3], ticks: yTicksStep, actual: sys2Actual, smooth: 0.3, model: 'PROCEST models',
      curves: [...group([procest2Ripple], 1, 0.5), ...group(procest2Waves, 1, 0.4), ...group(procest2Steps, 1.1, 0), ...group([sys2Hi, sys2Lo], 2, 0.3)],
      legend: [194, 559], note: [47.7, 385.3, 118, 98] },
    { rect: [493.3, 385.3, 398, 321.4], y: [-0.3, 2.3], ticks: yTicksStep, actual: sys2Actual, smooth: 0.3, model: 'TFSRIVC [12] models',
      curves: [...group(tfsr2Waves, 1, 0.4), ...group([sys2Hi, sys2Lo, sys2Mid], 2.5, 0.3)],
      legend: [622, 556], note: [493.3, 385.3, 119.4, 95.7] },
    { rect: [934.3, 385.7, 389.4, 321], y: [-0.3, 2.3], ticks: yTicksStep, actual: sys2Actual, smooth: 0.3, model: 'Proposed models',
      curves: [...group([prop2Stray], 1.2, 0.4), ...group([sys2Hi, sys2Lo, sys2Mid], 3.5, 0.3)],
      legend: [1077, 559], note: [934.3, 385.7, 116.7, 100] },
    { rect: [46.3, 766.7, 405.4, 312.6], y: [-1.5, 0.9], ticks: yTicksSys3, actual: sys3Actual, smooth: 0.3, model: 'PROCEST models',
      curves: [...group(procest3Thin, 1.2, 0.4), ...group(procest3Bold, 3, 0.4)],
      legend: [195, 1010], note: [46.3, 979.3, 102, 100] },
    { rect: [490.3, 766.3, 401, 313.7], y: [-1.5, 0.9], ticks: yTicksSys3, actual: sys3Actual, smooth: 0.3, model: 'TFSRIVC [12] models',
      curves: [...group(tfsr3Thin, 1, 0.4), ...group(tfsr3Bold, 3, 0.4)],
      legend: [626, 1010], note: [490.3, 979.3, 105.7, 100.7] },
    { rect: [924.3, 769.3, 395.7, 310.7], y: [-1.5, 0.9], ticks: yTicksSys3, actual: sys3Actual, smooth: 0.3, model: 'Proposed models',
      curves: [...group([prop3Stray], 1.2, 0.4), ...group([sys3PropHi, sys3PropLo, sys3PropMid], 3, 0.3)],
      legend: [1080, 981], note: [924.3, 982.7, 100, 97.3] }
];

const grid = [], xAxis = [], yAxis = [], series = [], legend = [], graphic = [];
const axisLine = { show: true, onZero: false, lineStyle: { color: AXIS, width: 1 } };
const labelStyle = { fontFamily: FONT, fontSize: 16, color: AXIS };

const noteRich = {
    i: { fontFamily: FONT, fontStyle: 'italic', fontSize: 18, color: '#000', padding: [0, 0, 10, 0] },
    s: { fontFamily: FONT, fontStyle: 'italic', fontSize: 14, color: '#000', padding: [11, 0, 0, 0] }
};

panels.forEach((p, i) => {
    const [left, top, width, height] = p.rect;
    grid.push({ left, top, width, height, outerBoundsMode: 'none' });

    const tick = { show: true, inside: true, length: 4, lineStyle: { color: AXIS } };
    const xBottom = {
        gridIndex: i, type: 'value', position: 'bottom', min: 0, max: 28, interval: 4,
        axisLine, axisTick: tick, splitLine: { show: false },
        axisLabel: { ...labelStyle, margin: 7 }
    };
    if (i === 7) {
        Object.assign(xBottom, { name: 'Time (seconds)', nameLocation: 'middle', nameGap: 32,
            nameTextStyle: { fontFamily: FONT, fontSize: 17, color: '#000' } });
    }
    xAxis.push(xBottom);
    xAxis.push({ gridIndex: i, type: 'value', position: 'top', min: 0, max: 28, interval: 4,
        axisLine, axisTick: tick, axisLabel: { show: false }, splitLine: { show: false } });

    const yLeft = {
        gridIndex: i, type: 'value', position: 'left', min: p.y[0], max: p.y[1],
        axisLine, splitLine: { show: false },
        axisTick: { ...tick, customValues: p.ticks },
        axisLabel: { ...labelStyle, margin: 7, customValues: p.ticks }
    };
    if (i === 3) {
        Object.assign(yLeft, { name: 'Step response', nameLocation: 'middle', nameGap: 26,
            nameTextStyle: { fontFamily: FONT, fontSize: 17, color: '#000' } });
    }
    yAxis.push(yLeft);
    yAxis.push({ gridIndex: i, type: 'value', position: 'right', min: p.y[0], max: p.y[1],
        axisLine, splitLine: { show: false },
        axisTick: { ...tick, customValues: p.ticks }, axisLabel: { show: false } });

    p.curves.forEach(c => series.push({
        type: 'line', name: p.model, xAxisIndex: 2 * i, yAxisIndex: 2 * i,
        data: c.data, smooth: c.smooth, symbol: 'none', showSymbol: false, clip: true,
        lineStyle: { color: CYAN, width: c.width }, itemStyle: { color: CYAN },
        silent: true, z: 2
    }));
    series.push({
        type: 'line', name: 'Actual system', xAxisIndex: 2 * i, yAxisIndex: 2 * i,
        data: p.actual, smooth: p.smooth, symbol: 'none', showSymbol: false, clip: true,
        lineStyle: { color: MAGENTA, width: 1.3 }, itemStyle: { color: MAGENTA },
        silent: true, z: 3
    });

    // legend keys drawn as plain thin bars (no markers)
    legend.push({
        data: ['Actual system', p.model], left: p.legend[0], top: p.legend[1],
        orient: 'vertical', icon: 'rect', itemWidth: 66, itemHeight: 1.5, itemGap: 3.5, padding: [6, 8, 5, 8],
        borderColor: AXIS, borderWidth: 1, backgroundColor: '#fff', selectedMode: false,
        textStyle: { fontFamily: FONT, fontSize: 17.5, color: '#000' }
    });

    // fit-score box
    const [nx, ny, nw, nh] = p.note;
    const f = fitScores[i];
    graphic.push({ type: 'rect', z: 50, shape: { x: nx, y: ny, width: nw, height: nh },
        style: { fill: '#fff', stroke: AXIS, lineWidth: 1 } });
    graphic.push({ type: 'text', z: 51, x: nx + 12, y: ny + 10,
        style: {
            text: `{i|F}{s|m}{i|=${f[0]}}\n{i|T}{s|m}{i|=${f[1]}}\n{i|It}{s|m}{i|=${f[2]}}`,
            rich: noteRich, align: 'left', verticalAlign: 'top'
        } });
});

// system titles above the middle column
[['Sys1', 693, 13], ['Sys2', 691, 376], ['Sys3', 691, 757]].forEach(([t, x, y]) => {
    graphic.push({ type: 'text', z: 51, x, y,
        style: { text: t, align: 'center', verticalAlign: 'middle', textAlign: 'center', textVerticalAlign: 'middle',
            font: 'bold 16px "Liberation Serif", serif', fill: '#000' } });
});

chart.setOption({
    animation: false,
    backgroundColor: '#fff',
    grid, xAxis, yAxis, series, legend, graphic
});
</script>
</body>
</html>
